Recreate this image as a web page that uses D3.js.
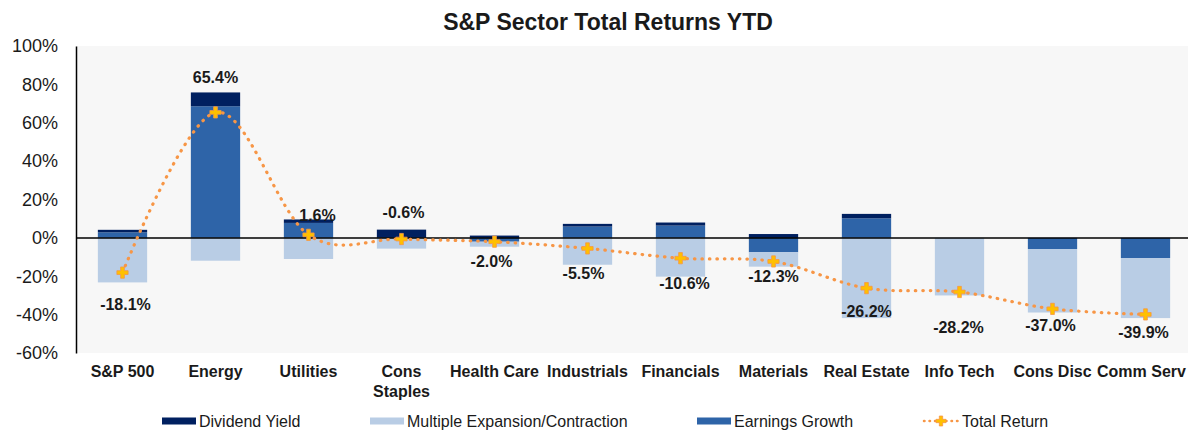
<!DOCTYPE html>
<html>
<head>
<meta charset="utf-8">
<script src="https://cdn.jsdelivr.net/npm/d3@7"></script>
<style>
  html, body { margin: 0; padding: 0; background: #ffffff; }
  svg { display: block; font-family: "Liberation Sans", Arial, sans-serif; }
</style>
</head>
<body>
<svg id="chart"></svg>
<script>
// sector names (\n = line break in the axis label)
const categories = ["S&P 500", "Energy", "Utilities", "Cons\nStaples", "Health Care", "Industrials",
  "Financials", "Materials", "Real Estate", "Info Tech", "Cons Disc", "Comm Serv"];

// return components, in %
const dividendYield = [1.3, 7.2, 1.8, 4.3, 1.2, 1.4, 1.6, 2.0, 2.3, 0, 0, 0];
const earningsGrowth = [2.9, 68.6, 7.8, 0, -2.0, 5.9, 6.4, -7.5, 10.2, 0, -5.8, -10.5];
const multipleChange = [-23.2, -11.9, -11.0, -5.6, -2.6, -14.0, -20.2, -7.5, -41.8, -30.0, -33.1, -31.3];
const totalReturn = [-18.1, 65.4, 1.6, -0.6, -2.0, -5.5, -10.6, -12.3, -26.2, -28.2, -37.0, -39.9];

const yTicks = [-60, -40, -20, 0, 20, 40, 60, 80, 100];

const seriesNames = ["Dividend Yield", "Multiple Expansion/Contraction", "Earnings Growth", "Total Return"];

// label nudges (px) - the labels in the original were placed by hand
const labelDy = [32, -35, -19, -27, 20, 25, 25, 15, 23, 35, 17, 18];
const labelDx = [3, 0, 9, 2, -3, -4, 4, 0, 0, -1, -2, -2];

const width = 1188;
const height = 430;
const margin = {top: 46, right: 0, bottom: 77, left: 76};

const colors = {
  dividend: "#002060",
  earnings: "#2e64a8",
  multiple: "#b9cde5",
  line: "#f79646",
  marker: "#ffc000"
};

const svg = d3.select("#chart")
  .attr("width", width)
  .attr("height", height)
  .attr("viewBox", [0, 0, width, height]);

// scales
const x = d3.scaleBand()
  .domain(categories)
  .range([margin.left, 1192])
  .paddingInner(0.47)
  .paddingOuter(0.235);

const y = d3.scaleLinear()
  .domain([-60, 100])
  .range([height - margin.bottom, margin.top]);

// plot background
svg.append("rect")
  .attr("x", margin.left)
  .attr("y", y(100))
  .attr("width", width - margin.left)
  .attr("height", y(-60) - y(100))
  .attr("fill", "#f7f7f7");

// title
svg.append("text")
  .attr("x", 608)
  .attr("y", 30)
  .attr("text-anchor", "middle")
  .attr("font-size", 23)
  .attr("font-weight", "bold")
  .attr("fill", "#1a1a1a")
  .text("S&P Sector Total Returns YTD");

// stacked bars (positive parts go up, negative parts go down)
const rows = categories.map((c, i) => ({
  cat: c,
  earnings: earningsGrowth[i],
  dividend: dividendYield[i],
  multiple: multipleChange[i]
}));

const stack = d3.stack()
  .keys(["earnings", "dividend", "multiple"])
  .offset(d3.stackOffsetDiverging);

const stacked = stack(rows);

svg.append("g")
  .selectAll("g")
  .data(stacked)
  .join("g")
  .attr("fill", d => colors[d.key])
  .selectAll("rect")
  .data(d => d)
  .join("rect")
  .attr("x", d => x(d.data.cat))
  .attr("width", x.bandwidth())
  .attr("y", d => y(Math.max(d[0], d[1])))
  .attr("height", d => Math.abs(y(d[0]) - y(d[1])));

// y axis
const yAxis = svg.append("g")
  .attr("transform", `translate(${margin.left},0)`)
  .call(d3.axisLeft(y).tickValues(yTicks).tickFormat(d => d + "%").tickSize(0).tickSizeOuter(0).tickPadding(18));

yAxis.select(".domain").attr("stroke", "#000").attr("stroke-width", 1.5);
yAxis.selectAll("text")
  .attr("font-size", 18)
  .attr("fill", "#1a1a1a")
  .attr("font-family", "Liberation Sans, Arial, sans-serif");

// zero line
svg.append("line")
  .attr("x1", margin.left)
  .attr("x2", width)
  .attr("y1", y(0))
  .attr("y2", y(0))
  .attr("stroke", "#000")
  .attr("stroke-width", 1.5);

// x axis labels
const xAxis = svg.append("g")
  .attr("transform", `translate(0,${y(-60)})`)
  .call(d3.axisBottom(x).tickSize(0).tickPadding(13));

xAxis.select(".domain").remove();
xAxis.selectAll("text")
  .attr("font-size", 16)
  .attr("font-weight", "bold")
  .attr("fill", "#1a1a1a")
  .attr("font-family", "Liberation Sans, Arial, sans-serif")
  .each(function(d) {
    const lines = d.split("\n");
    if (lines.length < 2) return;
    const t = d3.select(this).text(null);
    lines.forEach((s, i) => {
      t.append("tspan").attr("x", 0).attr("dy", i ? "1.2em" : "0.71em").text(s);
    });
    t.attr("dy", null);
  });

// keep the last label inside the picture
xAxis.selectAll(".tick").each(function(d) {
  const box = this.getBBox();
  const tx = x(d) + x.bandwidth() / 2;
  const over = tx + box.x + box.width - (width - 2);
  if (over > 0) d3.select(this).select("text").attr("x", -over);
});

// total return line
const cx = (d, i) => x(categories[i]) + x.bandwidth() / 2;

const line = d3.line()
  .x(cx)
  .y(d => y(d))
  .curve(d3.curveCardinal.tension(0));

svg.append("path")
  .datum(totalReturn)
  .attr("fill", "none")
  .attr("stroke", colors.line)
  .attr("stroke-width", 3.2)
  .attr("stroke-linecap", "round")
  .attr("stroke-dasharray", "0.5 7")
  .attr("d", line);

const cross = d3.symbol().type(d3.symbolCross).size(70);

svg.append("g")
  .selectAll("path")
  .data(totalReturn)
  .join("path")
  .attr("transform", (d, i) => `translate(${cx(d, i)},${y(d)})`)
  .attr("d", cross)
  .attr("fill", colors.marker)
  .attr("stroke", colors.line)
  .attr("stroke-width", 0.8);

// data labels (plain hyphen for the minus, like the original)
svg.append("g")
  .attr("font-size", 16)
  .attr("font-weight", "bold")
  .attr("fill", "#1a1a1a")
  .attr("text-anchor", "middle")
  .selectAll("text")
  .data(totalReturn)
  .join("text")
  .attr("x", (d, i) => cx(d, i) + labelDx[i])
  .attr("y", (d, i) => y(d) + labelDy[i])
  .attr("dy", "0.35em")
  .text(d => d.toFixed(1) + "%");

// legend
const legendX = [162, 370, 697, 923];
const legendFill = [colors.dividend, colors.multiple, colors.earnings, null];
const legendY = 421;

const legend = svg.append("g")
  .attr("font-size", 16)
  .attr("fill", "#1a1a1a")
  .selectAll("g")
  .data(seriesNames)
  .join("g")
  .attr("transform", (d, i) => `translate(${legendX[i]},${legendY})`);

legend.filter((d, i) => legendFill[i])
  .append("rect")
  .attr("x", 0)
  .attr("y", -3.5)
  .attr("width", 34)
  .attr("height", 7)
  .attr("fill", (d, i) => legendFill[i]);

const lineItem = legend.filter((d, i) => !legendFill[i]);
lineItem.append("line")
  .attr("x1", 1)
  .attr("x2", 35)
  .attr("stroke", colors.line)
  .attr("stroke-width", 2.5)
  .attr("stroke-linecap", "round")
  .attr("stroke-dasharray", "0.5 5");
lineItem.append("path")
  .attr("transform", "translate(18,0)")
  .attr("d", d3.symbol().type(d3.symbolCross).size(55))
  .attr("fill", colors.marker)
  .attr("stroke", colors.line)
  .attr("stroke-width", 0.8);

legend.append("text")
  .attr("x", (d, i) => legendFill[i] ? 37 : 39)
  .attr("dy", "0.35em")
  .text(d => d);
</script>
</body>
</html>
